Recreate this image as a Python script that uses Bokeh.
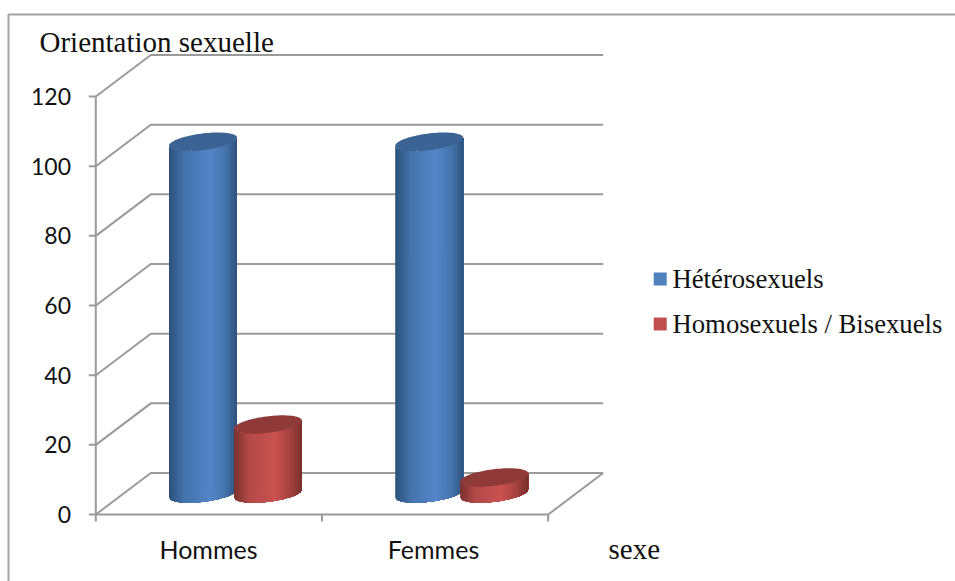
import numpy as np
from bokeh.core.properties import value
from bokeh.embed import file_html
from bokeh.models import Range1d
from bokeh.plotting import figure
from bokeh.resources import INLINE

# Chart data
categories = ["Hommes", "Femmes"]
heterosexuels = [101.0, 101.0]
homosexuels_bisexuels = [19.8, 4.6]
y_ticks = [0, 20, 40, 60, 80, 100, 120]
series_names = ["Hétérosexuels", "Homosexuels / Bisexuels"]

WIDTH, HEIGHT = 955, 581

# Scale of the plot: one category slot and one value unit, in pixels
ORIGIN_X, ORIGIN_Y = 95.3, 514.0
SLOT_PX, UNIT_PX = 226.2, 3.483
DEPTH_X, DEPTH_Y = 55.0 / SLOT_PX, 41.5 / UNIT_PX

p = figure(
    width=WIDTH, height=HEIGHT, output_backend="svg", toolbar_location=None,
    x_range=Range1d(-ORIGIN_X / SLOT_PX, (WIDTH - ORIGIN_X) / SLOT_PX),
    y_range=Range1d((ORIGIN_Y - HEIGHT) / UNIT_PX, ORIGIN_Y / UNIT_PX),
    min_border=0,
)
p.axis.visible = False
p.grid.visible = False
p.outline_line_color = None
p.background_fill_color = "white"
p.border_fill_color = "white"

GRID = "#9a9a9a"
n_cat = len(categories)


def xpx(px):
    return (px - ORIGIN_X) / SLOT_PX


def ypx(py):
    return (ORIGIN_Y - py) / UNIT_PX


# Outer chart frame, open on the right and bottom edges of the page
p.line([xpx(WIDTH), xpx(8), xpx(8)], [ypx(14), ypx(14), ypx(HEIGHT)],
       line_color="#a3a3a3", line_width=2)

# 3D walls: floor, left wall, gridlines receding to the back plane
for t in y_ticks:
    p.line([0, DEPTH_X, n_cat + DEPTH_X], [t, t + DEPTH_Y, t + DEPTH_Y],
           line_color=GRID, line_width=2)
    p.line([-7 / SLOT_PX, 0], [t, t], line_color=GRID, line_width=2)
p.line([0, 0], [0, max(y_ticks)], line_color=GRID, line_width=2)
p.line([0, n_cat, n_cat + DEPTH_X], [0, 0, DEPTH_Y], line_color=GRID, line_width=2)
for c in range(n_cat + 1):
    p.line([c, c], [0, -7 / UNIT_PX], line_color=GRID, line_width=2)

# Cylinder geometry
HALF_W = 34.0 / SLOT_PX
ELL_H = 8.3 / UNIT_PX
SHEAR = 4.0 / UNIT_PX
BASE = 21.0 / UNIT_PX
FIRST_CENTER = 0.474
SERIES_STEP = 0.287


def mix(stops, t):
    pos = [s[0] for s in stops]
    chan = [np.interp(t, pos, [s[1][k] for s in stops]) for k in range(3)]
    return "#%02x%02x%02x" % tuple(int(round(c)) for c in chan)


BLUE_STOPS = [(0, (44, 80, 122)), (0.22, (68, 115, 170)), (0.6, (84, 133, 200)),
              (0.82, (70, 117, 174)), (1, (46, 82, 124))]
RED_STOPS = [(0, (122, 48, 46)), (0.22, (178, 74, 72)), (0.6, (202, 82, 80)),
             (0.82, (166, 66, 64)), (1, (120, 48, 46))]


def cylinder(cx, height, stops, top_color):
    n = 60
    t = np.linspace(-1, 1, n + 1)
    curve = SHEAR * t - ELL_H * np.sqrt(1 - t * t)
    xs_col, ys_col, colors = [], [], []
    # Each band runs to the right edge and the next one paints over it,
    # which leaves no seams between the shading steps
    for k in range(n):
        seg_x = cx + t[k:] * HALF_W
        seg_low = BASE + curve[k:]
        seg_high = BASE + height + curve[k:]
        xs_col.append(np.concatenate([seg_x, seg_x[::-1]]))
        ys_col.append(np.concatenate([seg_low, seg_high[::-1]]))
        colors.append(mix(stops, (k + 0.5) / n))
    p.patches(xs_col, ys_col, fill_color=colors, line_color=None)
    th = np.linspace(0, 2 * np.pi, 90)
    p.patch(cx + HALF_W * np.cos(th),
            BASE + height + SHEAR * np.cos(th) + ELL_H * np.sin(th),
            fill_color=top_color, line_color=None)


for i in range(n_cat):
    cylinder(i + FIRST_CENTER, heterosexuels[i], BLUE_STOPS, "#3b6394")
    cylinder(i + FIRST_CENTER + SERIES_STEP, homosexuels_bisexuels[i], RED_STOPS, "#8f3a38")

# Value labels on the left wall
p.text([xpx(70.5)] * len(y_ticks), y_ticks, text=[str(t) for t in y_ticks],
       text_font=value("Lato"), text_font_size="23px", text_color="#111111",
       text_align="right", text_baseline="middle")

# Category labels and axis names
p.text([xpx(208), xpx(433)], [ypx(548)] * n_cat, text=categories,
       text_font=value("Lato"), text_font_size="25px", text_color="#111111",
       text_align="center", text_baseline="middle")
p.text([xpx(608)], [ypx(548)], text=["sexe"], text_font=value("Liberation Serif"),
       text_font_size="29px", text_color="#111111", text_baseline="middle")
p.text([xpx(39)], [ypx(41)], text=["Orientation sexuelle"],
       text_font=value("Liberation Serif"), text_font_size="29px",
       text_color="#111111", text_baseline="middle")

# Legend
legend_y = [ypx(278.5), ypx(323.5)]
p.scatter([xpx(659.7)] * 2, legend_y, marker="square", size=13,
          fill_color=["#4f81bd", "#c0504d"], line_color=None)
p.text([xpx(672)] * 2, legend_y, text=series_names,
       text_font=value("Liberation Serif"), text_font_size="26.7px",
       text_color="#111111", text_baseline="middle")

open("out.html", "w").write(file_html(p, INLINE))
